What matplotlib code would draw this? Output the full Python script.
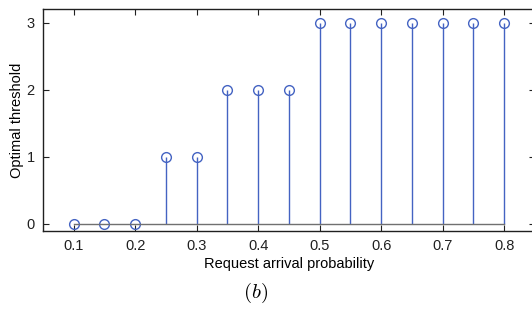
import numpy as np
import matplotlib.pyplot as plt

plt.rcParams['font.family'] = ['Liberation Sans', 'DejaVu Sans']
plt.rcParams['mathtext.fontset'] = 'cm'

# request arrival probability vs optimal threshold
prob = [0.10, 0.15, 0.20, 0.25, 0.30, 0.35, 0.40, 0.45,
        0.50, 0.55, 0.60, 0.65, 0.70, 0.75, 0.80]
threshold = [0, 0, 0, 1, 1, 2, 2, 2, 3, 3, 3, 3, 3, 3, 3]
xticks = [0.1, 0.2, 0.3, 0.4, 0.5, 0.6, 0.7, 0.8]
yticks = [0, 1, 2, 3]

fig = plt.figure(figsize=(5.32, 3.10), dpi=100)
ax = fig.add_axes([0.0806, 0.256, 0.925, 0.714])

blue = '#4463c2'
markers, stems, base = ax.stem(prob, threshold)
plt.setp(stems, color=blue, linewidth=1.0)
plt.setp(markers, marker='o', markersize=7, markerfacecolor='none',
         markeredgecolor=blue, markeredgewidth=1.0)
plt.setp(base, color='#707070', linewidth=1.0)

ax.set_xlim(0.05, 0.85)
ax.set_ylim(-0.1, 3.2)
ax.set_xticks(xticks)
ax.set_xticklabels([str(t) for t in xticks])
ax.set_yticks(yticks)
ax.tick_params(direction='in', top=True, right=True, labelsize=10.5,
               length=4, width=0.8, colors='#202020', pad=6)
for s in ax.spines.values():
    s.set_linewidth(1.0)
    s.set_color('#202020')

ax.set_xlabel('Request arrival probability', fontsize=10.5, labelpad=3)
ax.set_ylabel('Optimal threshold', fontsize=10.5, labelpad=2)
fig.text(256 / 532, 1 - 293 / 310, r'$(b)$', fontsize=15,
         ha='center', va='center')

fig.savefig('out.png', dpi=100)
